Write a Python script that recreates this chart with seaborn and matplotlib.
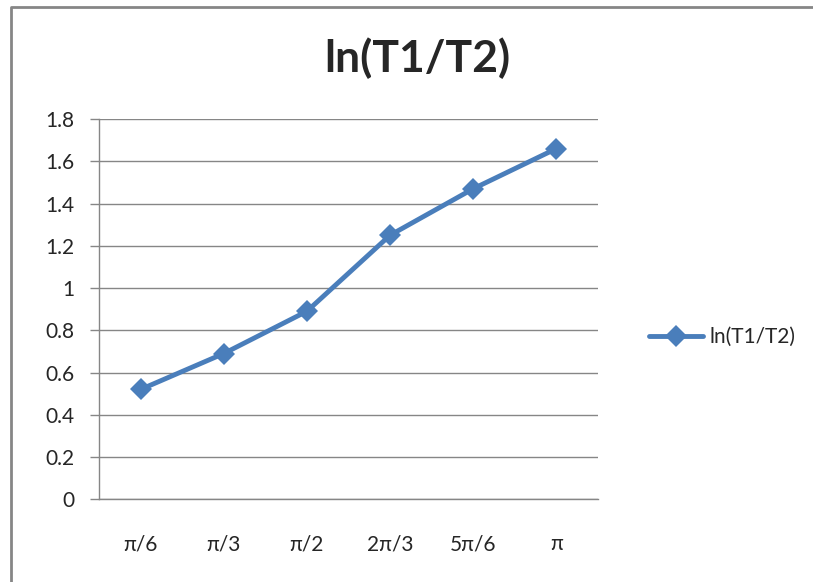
import numpy as np
import pandas as pd
import matplotlib.pyplot as plt
import seaborn as sns
from matplotlib.lines import Line2D

# Datos
categorias = ["π/6", "π/3", "π/2", "2π/3", "5π/6", "π"]
valores = [0.52, 0.69, 0.89, 1.25, 1.47, 1.66]
serie = "ln(T1/T2)"
yticks = [0, 0.2, 0.4, 0.6, 0.8, 1, 1.2, 1.4, 1.6, 1.8]
ylabels = ["0", "0.2", "0.4", "0.6", "0.8", "1", "1.2", "1.4", "1.6", "1.8"]

df = pd.DataFrame({"pos": np.arange(len(categorias)), "valor": valores, "serie": serie})

sns.set_style("white")
plt.rcParams["font.family"] = ["Lato", "DejaVu Sans"]

azul = "#4A7EBB"
gris = "#868686"

fig = plt.figure(figsize=(8.13, 5.82), dpi=100)
ax = fig.add_axes([0.1218, 0.1421, 0.6137, 0.6534])

sns.lineplot(data=df, x="pos", y="valor", hue="serie", palette=[azul],
             marker="D", markersize=11.5, markeredgewidth=0, linewidth=3.5,
             ax=ax, legend=False)

ax.set_xlim(-0.5, len(categorias) - 0.5)
ax.set_ylim(0, 1.8)
ax.set_yticks(yticks)
ax.set_yticklabels(ylabels, fontsize=15)
ax.set_xticks(np.arange(len(categorias)))
ax.set_xticklabels(categorias, fontsize=15)
ax.set_xticks(np.arange(-0.5, len(categorias)), minor=True)
ax.tick_params(axis="x", which="major", length=0, pad=25)
ax.tick_params(axis="x", which="minor", length=6, color=gris, width=1)
ax.tick_params(axis="y", length=6.5, color=gris, width=1, pad=11, left=True)
ax.set_xlabel("")
ax.set_ylabel("")

ax.grid(axis="y", color=gris, linewidth=1)
ax.set_axisbelow(True)
for lado in ["top", "right"]:
    ax.spines[lado].set_visible(False)
for lado in ["left", "bottom"]:
    ax.spines[lado].set_color(gris)
    ax.spines[lado].set_linewidth(1)

# Título
fig.text(417 / 813, 1 - 72 / 582, serie, ha="center", va="baseline",
         fontsize=32, fontweight="bold")

# Leyenda
h = Line2D([], [], color=azul, linewidth=3.5, marker="D",
           markersize=11.5, markeredgewidth=0)
fig.legend([h], [serie], loc="center left", bbox_to_anchor=(0.775, 1 - 337 / 582),
           frameon=False, fontsize=15, handlelength=2.6, handletextpad=0.3)

# Borde exterior (solo se ven el lado izquierdo y el superior)
fig.add_artist(Line2D([10.5 / 813, 10.5 / 813, 1], [0, 1 - 6.5 / 582, 1 - 6.5 / 582],
                      transform=fig.transFigure, color=gris, linewidth=2))

fig.savefig("out.png", dpi=100)
